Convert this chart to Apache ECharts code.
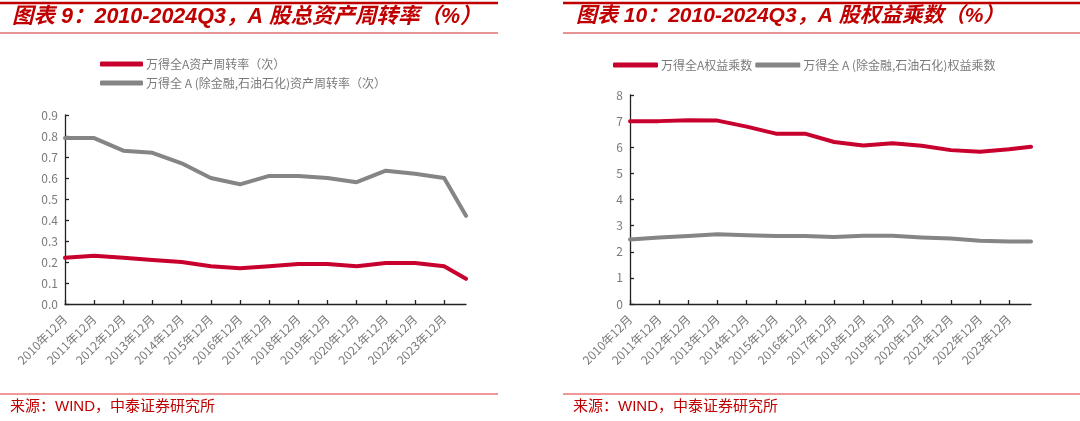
<!DOCTYPE html>
<html>
<head>
<meta charset="utf-8">
<script src="https://cdn.jsdelivr.net/npm/echarts@6/dist/echarts.min.js"></script>
<style>
html,body{margin:0;padding:0;background:#fff;}
#chart{width:1080px;height:421px;}
</style>
</head>
<body>
<div id="chart"></div>
<script>
// ---- Data ----
const periods = ['2010-12','2011-12','2012-12','2013-12','2014-12','2015-12','2016-12','2017-12','2018-12','2019-12','2020-12','2021-12','2022-12','2023-12','2024-09'];
const tickYears = [2010,2011,2012,2013,2014,2015,2016,2017,2018,2019,2020,2021,2022,2023];
const turnoverAll   = [0.22,0.23,0.22,0.21,0.20,0.18,0.17,0.18,0.19,0.19,0.18,0.195,0.195,0.18,0.12];
const turnoverExFin = [0.79,0.79,0.73,0.72,0.67,0.60,0.57,0.61,0.61,0.60,0.58,0.635,0.62,0.60,0.42];
const multAll       = [7.00,7.00,7.03,7.02,6.79,6.52,6.52,6.20,6.07,6.15,6.06,5.89,5.83,5.92,6.02];
const multExFin     = [2.47,2.55,2.60,2.67,2.63,2.60,2.60,2.56,2.61,2.61,2.55,2.51,2.42,2.39,2.39];
const names = {
  tAll: '万得全A资产周转率（次）',
  tEx: '万得全 A (除金融,石油石化)资产周转率（次）',
  mAll: '万得全A权益乘数',
  mEx: '万得全 A (除金融,石油石化)权益乘数'
};
const titles = ['图表 9：2010-2024Q3，A 股总资产周转率（%）', '图表 10：2010-2024Q3，A 股权益乘数（%）'];
const sourceText = '来源：WIND，中泰证券研究所';

// position on a date-like value axis: year-end of previous year + months
function xPos(p){ const [y,m] = p.split('-').map(Number); return y + (m - 12) / 12; }
function pairs(vals){ return periods.map((p,i)=>[xPos(p), vals[i]]); }

const RED = '#C8002E', GRAY = '#858585', TITLE_RED = '#C00000';
const FONT = '"Noto Sans CJK SC", "Liberation Sans", sans-serif';
const TITLE_FONT = '"Liberation Sans", "Noto Sans CJK SC", sans-serif';
const xMin = xPos(periods[0]), xMax = xPos(periods[periods.length-1]);

function xAxis(gi){
  return {
    type: 'value', gridIndex: gi, min: xMin, max: xMax,
    axisLine: {show: true, lineStyle: {color: '#222', width: 1.3}},
    axisTick: {show: true, inside: true, length: 4, customValues: tickYears, lineStyle: {color: '#222', width: 1.3}},
    axisLabel: {customValues: tickYears, rotate: 45, margin: 13, color: '#7a7a7a', fontSize: 12, fontFamily: FONT,
                formatter: v => v + '年12月'},
    splitLine: {show: false}
  };
}
function yAxis(gi, max, interval, digits){
  return {
    type: 'value', gridIndex: gi, min: 0, max: max, interval: interval,
    axisLine: {show: true, lineStyle: {color: '#222', width: 1.3}},
    axisTick: {show: true, inside: true, length: 4, lineStyle: {color: '#222', width: 1.3}},
    axisLabel: {margin: 7, color: '#7a7a7a', fontSize: 12, fontFamily: FONT,
                formatter: v => v.toFixed(digits)},
    splitLine: {show: false}
  };
}
function line(name, vals, color, xi){
  return {name, type: 'line', xAxisIndex: xi, yAxisIndex: xi, data: pairs(vals), symbol: 'none',
          lineStyle: {color, width: 4, cap: 'round', join: 'round'}, itemStyle: {color}};
}

const chart = echarts.init(document.getElementById('chart'), null, {renderer: 'canvas'});
chart.setOption({
  animation: false,
  backgroundColor: '#fff',
  title: [
    {text: titles[0], left: 12, top: 6, padding: 0,
     textStyle: {color: TITLE_RED, fontSize: 21.5, fontWeight: 'bold', fontStyle: 'italic', fontFamily: TITLE_FONT}},
    {text: titles[1], left: 576, top: 6, padding: 0,
     textStyle: {color: TITLE_RED, fontSize: 21, fontWeight: 'bold', fontStyle: 'italic', fontFamily: TITLE_FONT}}
  ],
  legend: [
    {orient: 'vertical', left: 100, top: 58, itemWidth: 43, itemHeight: 5, itemGap: 7, icon: 'roundRect', padding: 0,
     textStyle: {color: '#7a7a7a', fontSize: 12, fontFamily: FONT, padding: [0,0,0,-2]},
     data: [names.tAll, names.tEx]},
    {orient: 'horizontal', left: 613, top: 59, itemWidth: 45, itemHeight: 5, itemGap: 3, icon: 'roundRect', padding: 0,
     textStyle: {color: '#7a7a7a', fontSize: 12, fontFamily: FONT, padding: [0,0,0,-2]},
     data: [names.mAll, names.mEx]}
  ],
  grid: [
    {left: 65, right: 614, top: 115, bottom: 117},
    {left: 630, right: 49, top: 95, bottom: 117}
  ],
  xAxis: [xAxis(0), xAxis(1)],
  yAxis: [yAxis(0, 0.9, 0.1, 1), yAxis(1, 8, 1, 0)],
  series: [
    line(names.tAll, turnoverAll, RED, 0),
    line(names.tEx, turnoverExFin, GRAY, 0),
    line(names.mAll, multAll, RED, 1),
    line(names.mEx, multExFin, GRAY, 1)
  ],
  graphic: [
    {type: 'line', shape: {x1: 0, y1: 3, x2: 498, y2: 3}, style: {stroke: TITLE_RED, lineWidth: 2.5}},
    {type: 'line', shape: {x1: 0, y1: 33, x2: 498, y2: 33}, style: {stroke: '#E07070', lineWidth: 1.5}},
    {type: 'line', shape: {x1: 563, y1: 3, x2: 1080, y2: 3}, style: {stroke: TITLE_RED, lineWidth: 2.5}},
    {type: 'line', shape: {x1: 563, y1: 33, x2: 1080, y2: 33}, style: {stroke: '#E07070', lineWidth: 1.5}},
    {type: 'line', shape: {x1: 0, y1: 394, x2: 498, y2: 394}, style: {stroke: '#E03030', lineWidth: 1}},
    {type: 'line', shape: {x1: 563, y1: 394, x2: 1080, y2: 394}, style: {stroke: '#E03030', lineWidth: 1}},
    {type: 'text', x: 10, y: 407, style: {text: sourceText, fill: TITLE_RED, font: '15px "Liberation Sans", "Noto Sans CJK SC", sans-serif', verticalAlign: 'middle'}},
    {type: 'text', x: 573, y: 407, style: {text: sourceText, fill: TITLE_RED, font: '15px "Liberation Sans", "Noto Sans CJK SC", sans-serif', verticalAlign: 'middle'}}
  ]
});
</script>
</body>
</html>
